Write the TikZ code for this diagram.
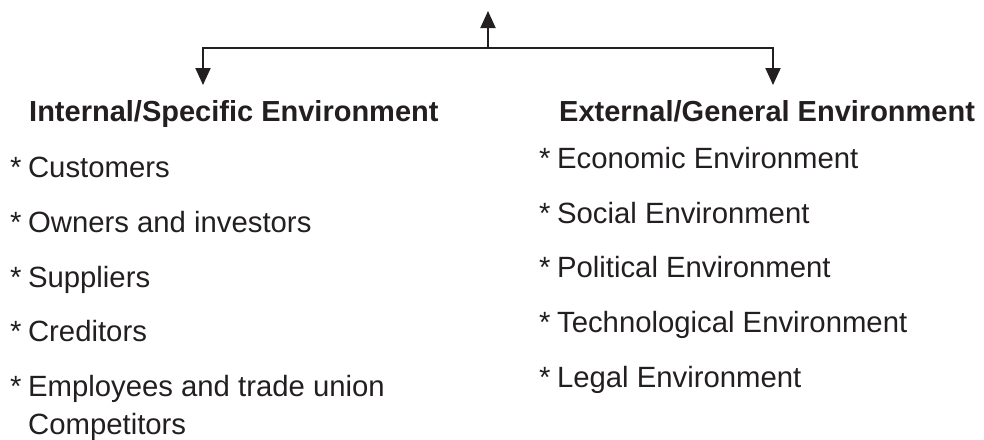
\documentclass[tikz,border=0pt]{standalone}
\usepackage{fontspec}
\setmainfont{Liberation Sans}
\usetikzlibrary{arrows.meta}
\definecolor{ink}{HTML}{231F20}
% asterisk marker with a narrow gap before the item text
\newcommand\itemstar{*\hspace{6.5pt}}
\tikzset{
  head/.style={anchor=base west, inner sep=0pt, text=ink,
    font=\fontsize{29}{35}\selectfont\bfseries},
  item/.style={anchor=base west, inner sep=0pt, text=ink,
    font=\fontsize{29.3}{35}\selectfont},
  link/.style={draw=ink, line width=2pt, line join=miter,
    -{Triangle[width=15pt,length=17pt]}}
}
\begin{document}
\begin{tikzpicture}[x=1pt,y=-1pt]
  \useasboundingbox (0,0) rectangle (984,439);

  % branching connector
  \coordinate (up)  at (488,11);
  \coordinate (hub) at (488,48);
  \coordinate (ltip) at (203,85);
  \coordinate (rtip) at (773,85);
  \draw[link] (hub) -- (up);
  \draw[link] (hub) -| (ltip);
  \draw[link] (hub) -| (rtip);

  % headings
  \node[head] (inth) at (29,121) {Internal/Specific Environment};
  \node[head] (exth) at (559,121) {External/General Environment};

  % internal environment
  \node[item] (cust) at (10,177) {\itemstar Customers};
  \node[item] (own)  at (10,232) {\itemstar Owners and investors};
  \node[item] (sup)  at (10,287) {\itemstar Suppliers};
  \node[item] (cred) at (10,341) {\itemstar Creditors};
  \node[item] (emp)  at (10,396) {\itemstar Employees and trade union};
  \node[item] (comp) at (28,434) {Competitors};

  % external environment
  \node[item] (eco) at (539,168) {\itemstar Economic Environment};
  \node[item] (soc) at (539,223) {\itemstar Social Environment};
  \node[item] (pol) at (539,277) {\itemstar Political Environment};
  \node[item] (tec) at (539,332) {\itemstar Technological Environment};
  \node[item] (leg) at (539,387) {\itemstar Legal Environment};
\end{tikzpicture}
\end{document}
